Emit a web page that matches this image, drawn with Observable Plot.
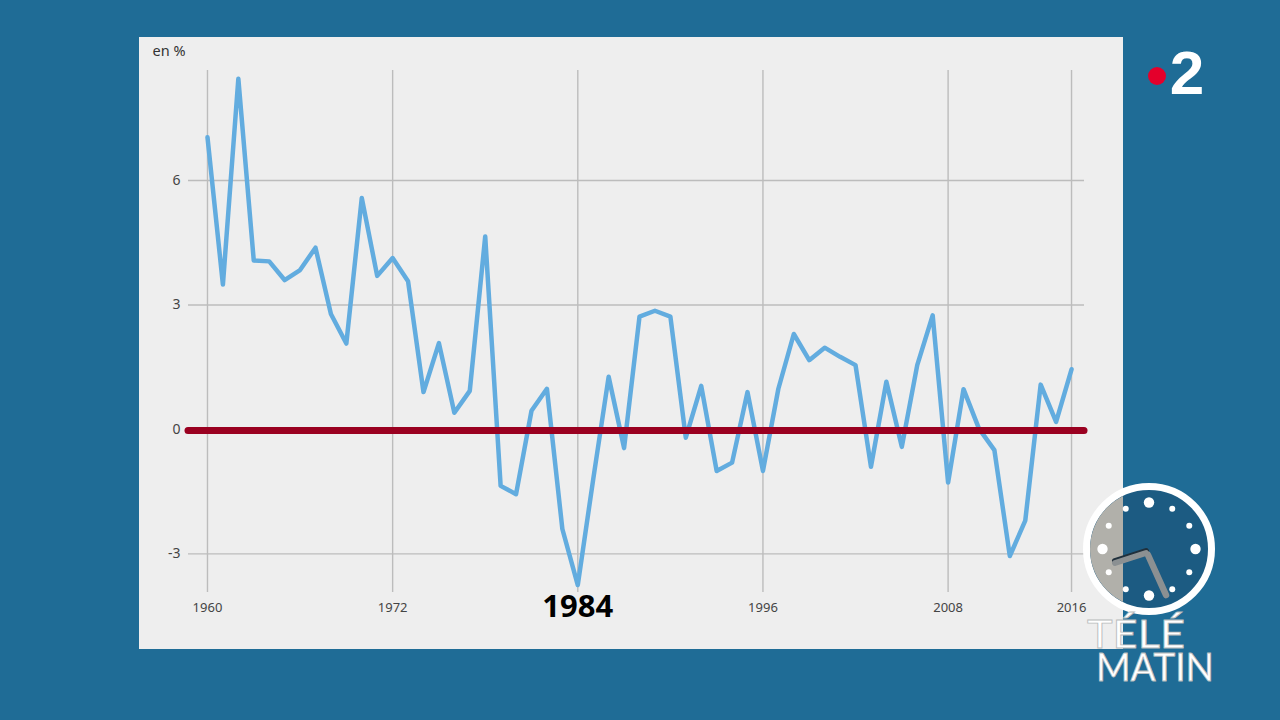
<!DOCTYPE html>
<html lang="fr">
<head>
<meta charset="utf-8">
<script src="https://cdn.jsdelivr.net/npm/d3@7"></script>
<script src="https://cdn.jsdelivr.net/npm/@observablehq/plot@0.6"></script>
<style>
  html, body { margin: 0; padding: 0; width: 1280px; height: 720px; overflow: hidden; background: #1f6c96; }
  #panel { position: absolute; left: 139px; top: 37px; width: 984px; height: 612px; background: #eeeeee; }
  #chart { position: absolute; left: 0; top: 0; }
  #chart svg { display: block; background: transparent; }
  #brand { position: absolute; left: 0; top: 0; pointer-events: none; }
</style>
</head>
<body>
<div id="panel"></div>
<div id="chart"></div>
<svg id="brand" width="1280" height="720" xmlns="http://www.w3.org/2000/svg"></svg>
<script>
const startYear = 1960;
const growth = [
  7.04, 3.49, 8.45, 4.07, 4.05, 3.6, 3.84, 4.38, 2.78, 2.07,
  5.58, 3.7, 4.13, 3.57, 0.9, 2.08, 0.4, 0.93, 4.65, -1.36,
  -1.56, 0.45, 0.98, -2.4, -3.75, -1.2, 1.27, -0.45, 2.72, 2.86,
  2.72, -0.2, 1.05, -1.0, -0.8, 0.9, -1.0, 0.98, 2.3, 1.67,
  1.97, 1.75, 1.55, -0.9, 1.15, -0.42, 1.55, 2.75, -1.28, 0.97,
  0.02, -0.5, -3.05, -2.2, 1.08, 0.18, 1.45
];
const series = growth.map((value, i) => ({year: startYear + i, value}));
const gridYears = [1960, 1972, 1984, 1996, 2008, 2016];
const labelYears = [1960, 1972, 1996, 2008, 2016];
const highlightYear = [1984];
const yTicks = [-3, 0, 3, 6];
const gridLines = [-3, 3, 6];
const unitLabel = "en %";

const font = "'Noto Sans', 'Open Sans', sans-serif";
const gridColor = "#bcbcbc";

const chart = Plot.plot({
  width: 1280,
  height: 720,
  marginLeft: 188,
  marginRight: 196,
  marginTop: 70,
  marginBottom: 128,
  style: {background: "transparent", fontFamily: font},
  x: {domain: [1958.77, 2016.84], axis: null},
  y: {domain: [-3.93, 8.65], axis: null},
  marks: [
    Plot.gridX(gridYears, {stroke: gridColor, strokeOpacity: 1, strokeWidth: 1.4}),
    Plot.gridY(gridLines, {stroke: gridColor, strokeOpacity: 1, strokeWidth: 1.4}),
    Plot.axisX(labelYears, {
      tickSize: 0, tickPadding: 10, tickFormat: d => String(d), label: null,
      fontSize: 13, fill: "#444"
    }),
    Plot.axisY(yTicks, {
      tickSize: 0, tickPadding: 8, label: null, tickFormat: d => String(d),
      fontSize: 14, fill: "#444"
    }),
    Plot.text([unitLabel], {
      frameAnchor: "top-left", textAnchor: "start", dx: -36, dy: -25,
      fontSize: 14.5, fill: "#333", lineAnchor: "top"
    }),
    Plot.text(highlightYear, {
      x: d => d, frameAnchor: "bottom", lineAnchor: "middle", dy: 15,
      text: d => String(d), fontSize: 31, fontWeight: 700, fill: "#000"
    }),
    Plot.line(series, {
      x: "year", y: "value", stroke: "#62acdf", strokeWidth: 4.5,
      strokeLinejoin: "round", strokeLinecap: "round"
    }),
    Plot.ruleY([0], {stroke: "#9a0020", strokeWidth: 7, strokeLinecap: "round", dy: 1})
  ]
});
document.getElementById("chart").append(chart);

// Broadcaster logo and programme clock
const brand = d3.select("#brand");
const defs = brand.append("defs");
defs.append("clipPath").attr("id", "overPanel").append("rect")
  .attr("x", 0).attr("y", 0).attr("width", 1123).attr("height", 720);

brand.append("circle").attr("cx", 1157).attr("cy", 76).attr("r", 9).attr("fill", "#e4002b");
brand.append("text").attr("x", 1187).attr("y", 94).attr("text-anchor", "middle")
  .attr("font-family", "'Liberation Sans', sans-serif").attr("font-weight", 700)
  .attr("font-size", 62).attr("fill", "#fff").text("2");

const cx = 1149, cy = 549;
brand.append("circle").attr("cx", cx).attr("cy", cy).attr("r", 62.5)
  .attr("fill", "#1c5b82").attr("stroke", "#fff").attr("stroke-width", 7);
brand.append("circle").attr("cx", cx).attr("cy", cy).attr("r", 59)
  .attr("fill", "#b1b0aa").attr("clip-path", "url(#overPanel)");
d3.range(12).forEach(i => {
  const a = i * Math.PI / 6;
  const major = i % 3 === 0;
  brand.append("circle")
    .attr("cx", cx + 46.5 * Math.sin(a)).attr("cy", cy - 46.5 * Math.cos(a))
    .attr("r", major ? 5.2 : 3).attr("fill", "#fff");
});
brand.append("line").attr("x1", 1146).attr("y1", 551).attr("x2", 1115).attr("y2", 561)
  .attr("stroke", "#20303c").attr("stroke-width", 6).attr("stroke-linecap", "round");
brand.append("line").attr("x1", 1146).attr("y1", 553).attr("x2", 1115).attr("y2", 563)
  .attr("stroke", "#8b9092").attr("stroke-width", 6).attr("stroke-linecap", "round");
brand.append("line").attr("x1", 1148).attr("y1", 555).attr("x2", 1166).attr("y2", 595)
  .attr("stroke", "#8b9092").attr("stroke-width", 6.5).attr("stroke-linecap", "round");

const logoFont = "'Lato', 'Noto Sans', sans-serif";
brand.append("text").attr("x", 1087).attr("y", 648).attr("textLength", 98)
  .attr("lengthAdjust", "spacingAndGlyphs")
  .attr("font-family", logoFont).attr("font-size", 38).attr("fill", "#fff")
  .attr("stroke", "#b9bcbd").attr("stroke-width", 0.8).text("TÉLÉ");
brand.append("text").attr("x", 1096).attr("y", 681).attr("textLength", 118)
  .attr("lengthAdjust", "spacingAndGlyphs")
  .attr("font-family", logoFont).attr("font-size", 38).attr("fill", "#fff")
  .attr("stroke", "#b9bcbd").attr("stroke-width", 0.8).text("MATIN");
</script>
</body>
</html>
